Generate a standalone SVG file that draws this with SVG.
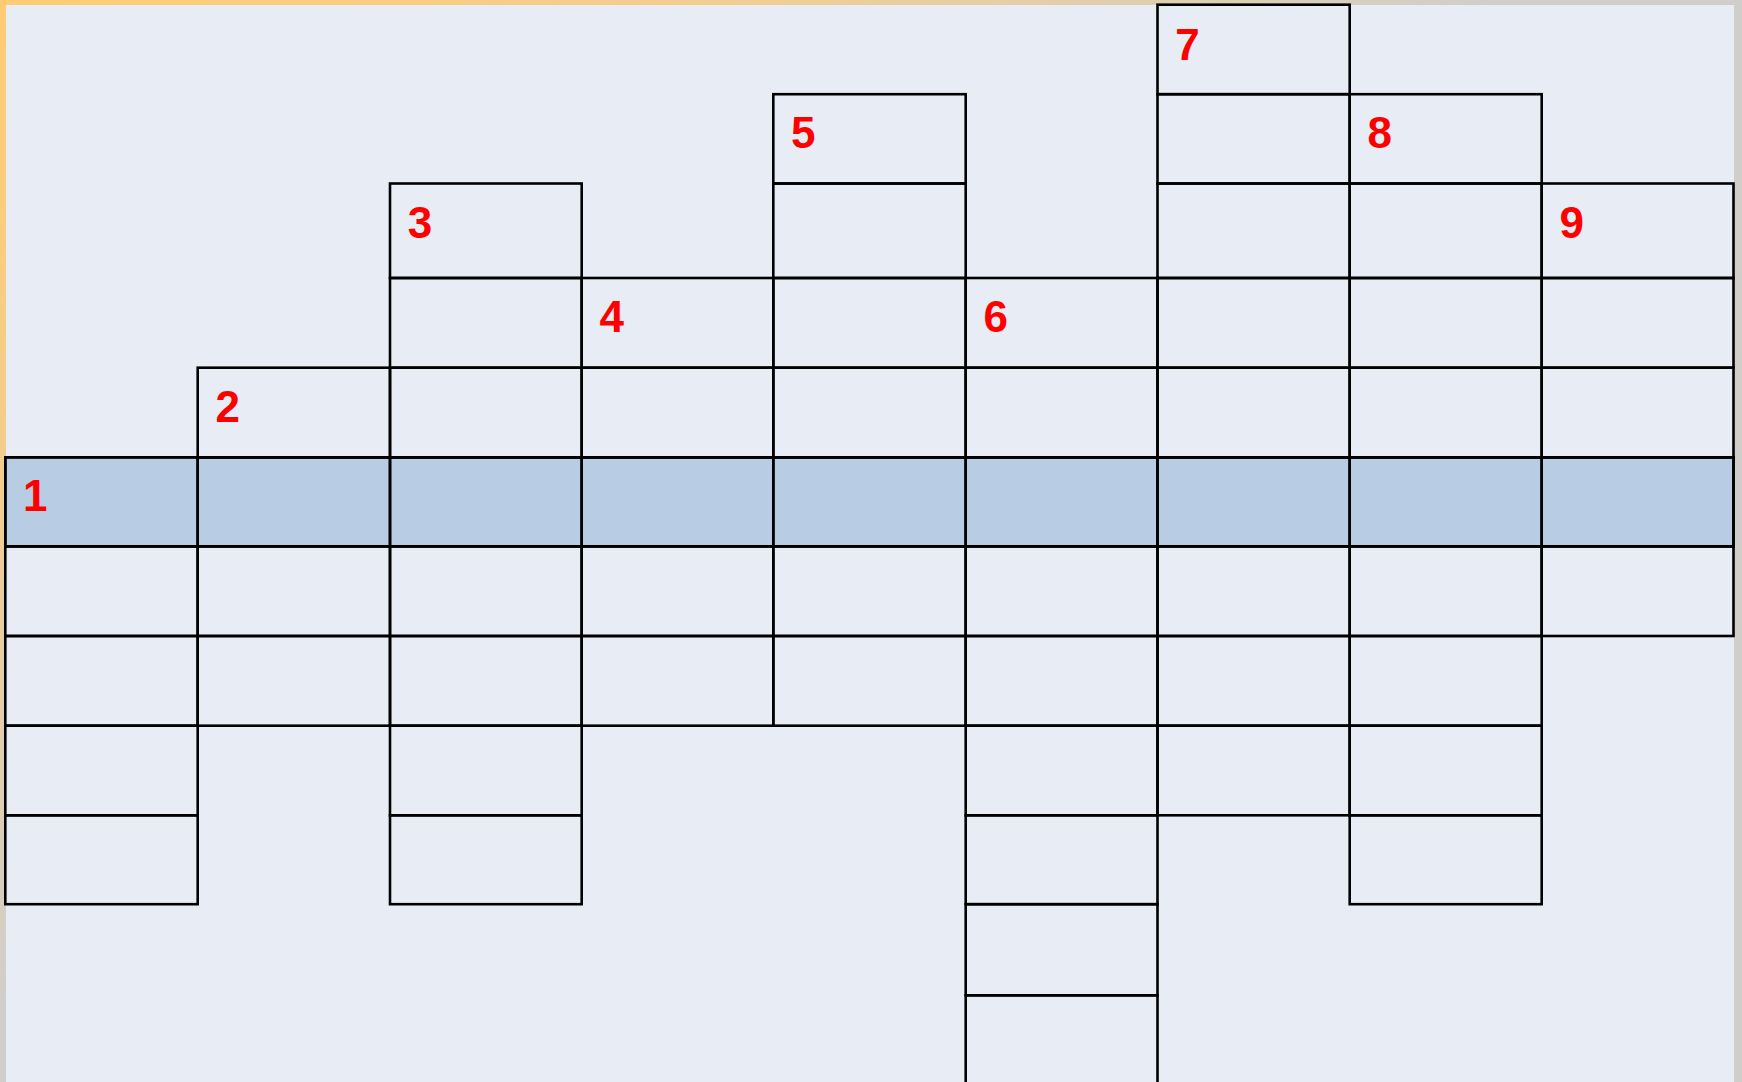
<svg xmlns="http://www.w3.org/2000/svg" width="1742" height="1082" viewBox="0 0 1742 1082">
<defs>
<linearGradient id="frame" gradientUnits="userSpaceOnUse" x1="0" y1="0" x2="461" y2="692">
<stop offset="0" stop-color="#FFCC73"/>
<stop offset="0.45" stop-color="#F4CD8C"/>
<stop offset="1" stop-color="#D0CECB"/>
</linearGradient>
<style>
.c{fill:none;stroke:#000;stroke-width:2.6}
.hl{fill:#B8CCE4;stroke:#000;stroke-width:2.6}
.n{font-family:"Liberation Sans",Arial,sans-serif;font-weight:bold;font-size:44px;fill:#FF0000;text-anchor:middle}
</style>
</defs>
<rect x="0" y="0" width="1742" height="1082" fill="url(#frame)"/>
<rect x="6" y="5" width="1728" height="1090" fill="#E8ECF5"/>
<g id="word1-row">
<rect class="hl" x="5.3" y="457.3" width="1728.2" height="89"/>
</g>
<g id="col1">
<rect class="c" x="5.3" y="457.3" width="192.4" height="89"/>
<rect class="c" x="5.3" y="546.3" width="192.4" height="89.7"/>
<rect class="c" x="5.3" y="636" width="192.4" height="89.7"/>
<rect class="c" x="5.3" y="725.7" width="192.4" height="89.6"/>
<rect class="c" x="5.3" y="815.3" width="192.4" height="88.9"/>
<text class="n" x="35.3" y="511">1</text>
</g>
<g id="col2">
<rect class="c" x="197.7" y="367.7" width="192.3" height="89.6"/>
<rect class="c" x="197.7" y="457.3" width="192.3" height="89"/>
<rect class="c" x="197.7" y="546.3" width="192.3" height="89.7"/>
<rect class="c" x="197.7" y="636" width="192.3" height="89.7"/>
<text class="n" x="227.7" y="421.5">2</text>
</g>
<g id="col3">
<rect class="c" x="390" y="183.5" width="191.7" height="94.5"/>
<rect class="c" x="390" y="278" width="191.7" height="89.7"/>
<rect class="c" x="390" y="367.7" width="191.7" height="89.6"/>
<rect class="c" x="390" y="457.3" width="191.7" height="89"/>
<rect class="c" x="390" y="546.3" width="191.7" height="89.7"/>
<rect class="c" x="390" y="636" width="191.7" height="89.7"/>
<rect class="c" x="390" y="725.7" width="191.7" height="89.6"/>
<rect class="c" x="390" y="815.3" width="191.7" height="88.9"/>
<text class="n" x="420" y="237.5">3</text>
</g>
<g id="col4">
<rect class="c" x="581.7" y="278" width="191.6" height="89.7"/>
<rect class="c" x="581.7" y="367.7" width="191.6" height="89.6"/>
<rect class="c" x="581.7" y="457.3" width="191.6" height="89"/>
<rect class="c" x="581.7" y="546.3" width="191.6" height="89.7"/>
<rect class="c" x="581.7" y="636" width="191.6" height="89.7"/>
<text class="n" x="611.7" y="331.8">4</text>
</g>
<g id="col5">
<rect class="c" x="773.3" y="94.2" width="192.4" height="89.3"/>
<rect class="c" x="773.3" y="183.5" width="192.4" height="94.5"/>
<rect class="c" x="773.3" y="278" width="192.4" height="89.7"/>
<rect class="c" x="773.3" y="367.7" width="192.4" height="89.6"/>
<rect class="c" x="773.3" y="457.3" width="192.4" height="89"/>
<rect class="c" x="773.3" y="546.3" width="192.4" height="89.7"/>
<rect class="c" x="773.3" y="636" width="192.4" height="89.7"/>
<text class="n" x="803.3" y="148.2">5</text>
</g>
<g id="col6">
<rect class="c" x="965.7" y="278" width="191.8" height="89.7"/>
<rect class="c" x="965.7" y="367.7" width="191.8" height="89.6"/>
<rect class="c" x="965.7" y="457.3" width="191.8" height="89"/>
<rect class="c" x="965.7" y="546.3" width="191.8" height="89.7"/>
<rect class="c" x="965.7" y="636" width="191.8" height="89.7"/>
<rect class="c" x="965.7" y="725.7" width="191.8" height="89.6"/>
<rect class="c" x="965.7" y="815.3" width="191.8" height="88.9"/>
<rect class="c" x="965.7" y="904.2" width="191.8" height="91.1"/>
<rect class="c" x="965.7" y="995.3" width="191.8" height="100"/>
<text class="n" x="995.7" y="331.8">6</text>
</g>
<g id="col7">
<rect class="c" x="1157.5" y="4.7" width="192.2" height="89.5"/>
<rect class="c" x="1157.5" y="94.2" width="192.2" height="89.3"/>
<rect class="c" x="1157.5" y="183.5" width="192.2" height="94.5"/>
<rect class="c" x="1157.5" y="278" width="192.2" height="89.7"/>
<rect class="c" x="1157.5" y="367.7" width="192.2" height="89.6"/>
<rect class="c" x="1157.5" y="457.3" width="192.2" height="89"/>
<rect class="c" x="1157.5" y="546.3" width="192.2" height="89.7"/>
<rect class="c" x="1157.5" y="636" width="192.2" height="89.7"/>
<rect class="c" x="1157.5" y="725.7" width="192.2" height="89.6"/>
<text class="n" x="1187.5" y="59.5">7</text>
</g>
<g id="col8">
<rect class="c" x="1349.7" y="94.2" width="192" height="89.3"/>
<rect class="c" x="1349.7" y="183.5" width="192" height="94.5"/>
<rect class="c" x="1349.7" y="278" width="192" height="89.7"/>
<rect class="c" x="1349.7" y="367.7" width="192" height="89.6"/>
<rect class="c" x="1349.7" y="457.3" width="192" height="89"/>
<rect class="c" x="1349.7" y="546.3" width="192" height="89.7"/>
<rect class="c" x="1349.7" y="636" width="192" height="89.7"/>
<rect class="c" x="1349.7" y="725.7" width="192" height="89.6"/>
<rect class="c" x="1349.7" y="815.3" width="192" height="88.9"/>
<text class="n" x="1379.7" y="148.2">8</text>
</g>
<g id="col9">
<rect class="c" x="1541.7" y="183.5" width="191.8" height="94.5"/>
<rect class="c" x="1541.7" y="278" width="191.8" height="89.7"/>
<rect class="c" x="1541.7" y="367.7" width="191.8" height="89.6"/>
<rect class="c" x="1541.7" y="457.3" width="191.8" height="89"/>
<rect class="c" x="1541.7" y="546.3" width="191.8" height="89.7"/>
<text class="n" x="1571.7" y="237.5">9</text>
</g>
<g id="connectors"></g>
</svg>
